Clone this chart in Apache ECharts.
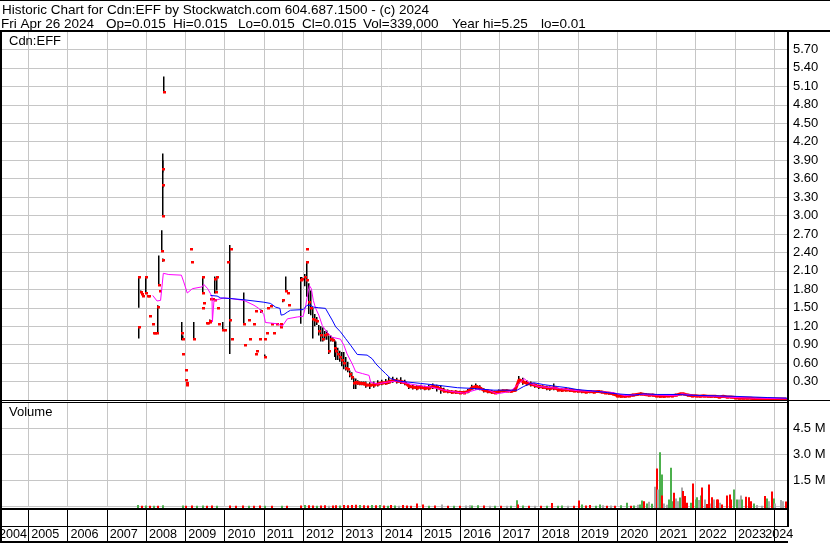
<!DOCTYPE html>
<html><head><meta charset="utf-8">
<script src="https://cdn.jsdelivr.net/npm/echarts@6/dist/echarts.min.js"></script>
<style>html,body{margin:0;padding:0;background:#fff;overflow:hidden;width:830px;height:543px;position:relative}
#c{position:absolute;left:-11px;top:0;width:841px;height:543px}</style>
</head><body><div id="c"></div><script>
// ---------------- DATA ----------------
const headerLine1 = 'Historic Chart for Cdn:EFF by Stockwatch.com 604.687.1500 - (c) 2024';
const headerLine2 = ['Fri Apr 26 2024', 'Op=0.015', 'Hi=0.015', 'Lo=0.015', 'Cl=0.015', 'Vol=339,000', 'Year hi=5.25', 'lo=0.01'];
const symbolLabel = 'Cdn:EFF';
const volumeLabel = 'Volume';
const yearLabels = [2004,2005,2006,2007,2008,2009,2010,2011,2012,2013,2014,2015,2016,2017,2018,2019,2020,2021,2022,2023,2024];
const volumeTickLabels = {1.5:'1.5 M', 3:'3.0 M', 4.5:'4.5 M'};

// sparse trading period (2007-2011)
const earlyDates = [2007.81,2007.82,2007.86,2007.90,2007.93,2008.00,2008.01,2008.04,2008.08,2008.11,
 2008.17,2008.19,2008.23,2008.27,2008.31,2008.32,2008.36,2008.41,2008.42,2008.43,
 2008.435,2008.44,2008.45,2008.92,2008.93,2008.94,2009.02,2009.03,2009.04,2009.05,
 2009.15,2009.18,2009.23,2009.44,2009.45,2009.46,2009.47,2009.54,2009.57,2009.62,
 2009.64,2009.66,2009.70,2009.75,2009.76,2009.79,2009.81,2009.84,2009.85,2009.96,
 2010.02,2010.09,2010.15,2010.17,2010.18,2010.49,2010.53,2010.63,2010.66,2010.75,
 2010.79,2010.81,2010.83,2010.90,2010.93,2011.03,2011.04,2011.08,2011.11,2011.17,
 2011.21,2011.26,2011.34,2011.43,2011.44,2011.49,2011.57,2011.62,2011.65,2011.95,
 2011.97,2012.09,2012.11];
const earlyHigh = [2.01,1.20,1.78,1.74,1.70,2.01,2.00,1.70,1.70,1.36,
 1.24,1.09,1.09,1.09,1.54,2.35,1.78,2.76,2.30,4.01,
 3.90,3.50,5.26,1.27,1.05,0.75,0.48,0.33,0.28,0.24,
 2.45,2.24,1.27,1.50,2.01,2.00,1.58,1.26,1.26,1.31,
 1.28,1.65,1.65,2.01,1.62,1.76,2.00,1.49,1.24,1.27,
 1.14,2.24,2.52,2.46,1.00,1.75,0.90,1.30,1.00,1.24,
 1.45,0.74,0.80,1.00,1.47,1.00,0.74,1.09,1.50,1.53,
 1.24,1.09,1.24,1.24,1.19,1.64,2.01,1.74,1.54,2.00,
 2.00,2.46,2.24];
const earlyLow = [1.50,1.00,1.75,1.72,1.69,1.74,2.00,1.69,1.69,1.36,
 1.24,1.09,1.09,1.09,1.09,1.86,1.78,2.42,2.25,3.70,
 3.45,2.98,5.01,0.97,1.00,0.75,0.48,0.33,0.28,0.24,
 2.45,2.24,1.00,1.50,1.74,2.00,1.58,1.26,1.26,1.25,
 1.28,1.65,1.65,1.73,1.62,1.76,1.78,1.49,1.24,1.14,
 1.14,2.24,0.75,2.46,1.00,1.24,0.90,1.30,1.00,1.24,
 1.45,0.74,0.80,1.00,1.42,1.00,0.70,1.09,1.50,1.53,
 1.24,1.09,1.24,1.24,1.19,1.59,1.78,1.74,1.54,1.24,
 1.95,2.46,2.24];
const earlyClose = [2.00,1.19,1.76,1.73,1.69,1.74,2.00,1.69,1.69,1.36,
 1.24,1.09,1.09,1.09,1.52,1.87,1.78,2.42,2.28,3.76,
 3.49,2.99,5.01,1.09,1.00,0.75,0.48,0.33,0.28,0.24,
 2.45,2.24,1.00,1.50,1.74,2.00,1.58,1.26,1.26,1.27,
 1.28,1.65,1.65,1.97,1.62,1.76,2.00,1.49,1.24,1.14,
 1.14,2.24,1.30,2.46,1.00,1.24,0.90,1.30,1.00,1.24,
 1.45,0.74,0.80,1.00,1.45,1.00,0.70,1.09,1.50,1.53,
 1.24,1.09,1.24,1.24,1.19,1.62,1.78,1.74,1.54,1.95,
 1.97,2.46,2.24];

// active trading period (2012-2024)
const lateDates = [2012.05,2012.10,2012.15,2012.20,2012.25,2012.30,2012.35,2012.40,2012.45,2012.50,
 2012.55,2012.60,2012.65,2012.70,2012.75,2012.80,2012.85,2012.90,2012.95,2013.00,
 2013.05,2013.10,2013.15,2013.20,2013.25,2013.30,2013.35,2013.40,2013.45,2013.50,2013.55,
 2013.6,2013.7,2013.8,2013.9,
 2014.0,2014.1,2014.2,2014.3,2014.4,2014.5,2014.6,2014.7,2014.8,2014.9,
 2015.0,2015.1,2015.2,2015.3,2015.4,2015.5,2015.6,2015.7,2015.8,2015.9,
 2016.0,2016.1,2016.2,2016.3,2016.4,2016.5,2016.6,2016.7,2016.8,2016.9,
 2017.0,2017.1,2017.2,2017.3,2017.4,2017.5,2017.6,2017.7,2017.8,2017.9,
 2018.0,2018.1,2018.2,2018.3,2018.4,2018.5,2018.6,2018.7,2018.8,2018.9,
 2019.0,2019.1,2019.2,2019.3,2019.4,2019.5,2019.6,2019.7,2019.8,2019.9,
 2020.0,2020.1,2020.2,2020.3,2020.4,2020.5,2020.6,2020.7,2020.8,2020.9,
 2021.0,2021.1,2021.2,2021.3,2021.4,2021.5,2021.6,2021.7,2021.8,2021.9,
 2022.0,2022.1,2022.2,2022.3,2022.4,2022.5,2022.6,2022.7,2022.8,2022.9,
 2023.0,2023.1,2023.2,2023.3,2023.4,2023.5,2023.6,2023.7,2023.8,2023.9,
 2024.0,2024.1,2024.2,2024.3];
const lateClose = [2.00,1.95,1.60,1.50,1.32,1.30,1.28,1.12,1.05,1.00,
 1.05,1.08,0.80,1.00,0.98,0.85,0.80,0.75,0.70,0.65,
 0.60,0.52,0.50,0.42,0.38,0.28,0.30,0.28,0.27,0.27,0.27,
 0.25,0.24,0.25,0.26,
 0.28,0.28,0.30,0.32,0.31,0.30,0.28,0.22,0.21,0.20,
 0.21,0.19,0.20,0.22,0.21,0.18,0.15,0.14,0.13,0.13,
 0.12,0.12,0.14,0.20,0.22,0.20,0.16,0.14,0.13,0.12,
 0.14,0.15,0.15,0.14,0.16,0.33,0.30,0.27,0.26,0.24,
 0.22,0.21,0.20,0.19,0.20,0.17,0.16,0.17,0.16,0.15,
 0.15,0.14,0.13,0.14,0.13,0.14,0.13,0.12,0.11,0.10,
 0.07,0.06,0.06,0.07,0.08,0.09,0.10,0.09,0.08,0.08,
 0.07,0.06,0.06,0.07,0.07,0.08,0.10,0.10,0.08,0.07,
 0.07,0.06,0.07,0.06,0.06,0.06,0.05,0.06,0.05,0.05,
 0.04,0.03,0.03,0.03,0.03,0.02,0.025,0.02,0.02,0.015,
 0.015,0.015,0.015,0.015];
const lateHigh = [2.05,2.25,1.90,1.78,1.50,1.40,1.35,1.22,1.20,1.18,
 1.12,1.13,1.05,1.05,1.02,0.97,0.95,0.85,0.80,0.78,
 0.78,0.70,0.62,0.48,0.45,0.36,0.35,0.32,0.30,0.30,0.30,
 0.30,0.29,0.30,0.32,
 0.33,0.34,0.37,0.38,0.36,0.37,0.33,0.26,0.25,0.24,
 0.25,0.23,0.25,0.27,0.25,0.24,0.20,0.17,0.16,0.16,
 0.15,0.15,0.18,0.25,0.27,0.24,0.19,0.17,0.16,0.15,
 0.17,0.17,0.17,0.16,0.19,0.39,0.36,0.32,0.30,0.27,
 0.25,0.24,0.23,0.22,0.27,0.20,0.19,0.20,0.19,0.17,
 0.17,0.16,0.15,0.16,0.15,0.16,0.15,0.14,0.13,0.12,
 0.09,0.08,0.08,0.08,0.10,0.11,0.12,0.11,0.10,0.10,
 0.09,0.08,0.08,0.08,0.09,0.10,0.11,0.11,0.10,0.09,
 0.08,0.08,0.08,0.08,0.07,0.07,0.07,0.07,0.06,0.06,
 0.05,0.04,0.04,0.04,0.04,0.03,0.03,0.03,0.025,0.02,
 0.02,0.02,0.02,0.02];
const lateLow = [1.85,1.68,1.40,1.38,1.00,1.20,1.22,1.05,0.95,0.95,
 0.98,0.98,0.75,0.95,0.95,0.70,0.65,0.65,0.62,0.55,
 0.50,0.48,0.45,0.37,0.33,0.18,0.18,0.25,0.24,0.24,0.24,
 0.20,0.18,0.20,0.22,
 0.24,0.25,0.26,0.28,0.27,0.26,0.24,0.18,0.17,0.16,
 0.17,0.16,0.16,0.18,0.14,0.10,0.12,0.11,0.10,0.10,
 0.10,0.10,0.11,0.16,0.17,0.16,0.12,0.11,0.10,0.10,
 0.12,0.13,0.13,0.12,0.13,0.26,0.25,0.23,0.22,0.20,
 0.18,0.18,0.16,0.15,0.16,0.14,0.13,0.14,0.13,0.13,
 0.12,0.11,0.11,0.11,0.11,0.12,0.11,0.10,0.09,0.08,
 0.05,0.04,0.04,0.05,0.06,0.07,0.08,0.07,0.06,0.06,
 0.05,0.04,0.04,0.05,0.05,0.06,0.08,0.08,0.06,0.05,
 0.05,0.05,0.05,0.05,0.04,0.04,0.04,0.04,0.04,0.04,
 0.02,0.02,0.02,0.02,0.02,0.015,0.015,0.01,0.01,0.01,
 0.01,0.01,0.01,0.01];

// moving averages
const shortMaDates = [2008.17,2008.28,2008.37,2008.41,2008.44,2008.58,2008.90,2008.96,2009.05,2009.18,
 2009.43,2009.47,2009.57,2009.64,2009.68,2009.69,2009.73,2009.81,2009.98,2010.15,
 2010.49,2010.75,2010.87,2011.00,2011.04,2011.34,2011.47,2011.60,2011.85,2012.00,
 2012.06,2012.12,2012.16,2012.21,2012.26,2012.32,2012.40,2012.49,2012.61,2012.74,
 2012.95,2013.04,2013.12,2013.25,2013.34,2013.51,2013.68,2013.72,2013.89,2014.14,
 2014.40,2014.65,2014.91,2015.25,2015.67,2016.10,2016.43,2016.69,2016.94,2017.28,
 2017.54,2017.62,2017.79,2018.00,2018.50,2019.00,2019.50,2019.90,2020.20,2020.50,
 2021.00,2021.50,2021.65,2022.00,2022.50,2023.00,2023.50,2024.35];
const shortMaValues = [1.70,1.61,1.62,1.65,2.06,2.04,2.03,1.92,1.74,1.81,
 1.84,1.88,1.81,1.73,1.68,1.27,1.62,1.63,1.66,1.65,
 1.62,1.54,1.49,1.39,1.26,1.24,1.20,1.32,1.35,1.36,
 1.51,1.73,1.86,1.81,1.62,1.49,1.38,1.21,1.10,1.02,
 0.99,0.89,0.75,0.59,0.46,0.43,0.40,0.29,0.26,0.29,
 0.31,0.27,0.24,0.21,0.15,0.11,0.17,0.17,0.10,0.14,
 0.29,0.35,0.27,0.22,0.19,0.15,0.14,0.12,0.07,0.09,
 0.08,0.07,0.10,0.07,0.06,0.04,0.03,0.02];
const longMaDates = [2009.64,2009.81,2009.90,2010.15,2010.49,2010.75,2011.00,2011.17,2011.30,2011.41,
 2011.44,2011.51,2011.60,2011.68,2012.00,2012.10,2012.19,2012.27,2012.40,2012.57,
 2012.65,2012.74,2012.83,2012.95,2013.08,2013.21,2013.38,2013.63,2013.76,2013.85,
 2013.97,2014.10,2014.23,2014.40,2014.99,2015.42,2015.93,2016.27,2016.86,2017.45,
 2017.62,2017.79,2017.88,2018.13,2018.47,2018.73,2018.98,2019.49,2019.75,2020.00,
 2020.43,2020.68,2021.02,2021.53,2021.78,2022.97,2023.82,2024.35];
const longMaValues = [1.70,1.69,1.66,1.65,1.63,1.61,1.59,1.57,1.51,1.49,
 1.38,1.39,1.43,1.46,1.47,1.54,1.54,1.51,1.50,1.49,
 1.40,1.30,1.19,1.11,1.00,0.89,0.74,0.73,0.67,0.59,
 0.51,0.43,0.35,0.31,0.27,0.24,0.20,0.19,0.16,0.16,
 0.22,0.27,0.28,0.25,0.22,0.20,0.17,0.14,0.12,0.10,
 0.08,0.10,0.09,0.09,0.08,0.06,0.04,0.03];

// volume (millions), direction: 1 up (green), -1 down (red), 0 unchanged (gray)
const volDates = [2007.80,2007.90,2008.00,2008.10,2008.20,2008.30,2008.44,2008.93,2009.03,2009.18,
 2009.30,2009.45,2009.55,2009.68,2009.80,2010.15,2010.30,2010.48,2010.62,2010.76,
 2010.90,2011.03,2011.20,2011.45,2011.60,2011.95,2012.05,2012.15,2012.25,2012.35,
 2012.45,2012.55,2012.65,2012.75,2012.85,2012.95,2013.05,2013.15,2013.25,2013.35,
 2013.45,2013.55,2013.65,2013.75,2013.85,2013.95,2014.05,2014.15,2014.25,2014.35,
 2014.45,2014.55,2014.65,2014.75,2014.90,2015.05,2015.20,2015.35,2015.55,2015.70,
 2015.85,2016.00,2016.15,2016.25,2016.30,2016.45,2016.60,2016.75,2016.90,2017.05,
 2017.20,2017.30,2017.44,2017.48,2017.60,2017.75,2017.90,2018.05,2018.20,2018.34,
 2018.50,2018.60,2018.75,2018.90,2019.02,2019.10,2019.20,2019.30,2019.45,2019.55,
 2019.65,2019.75,2019.85,2019.95,2020.10,2020.24,2020.35,2020.44,2020.52,2020.58,
 2020.64,2020.68,2020.75,2020.82,2020.89,2020.96,2021.02,2021.05,2021.09,2021.10,
 2021.14,2021.15,2021.19,2021.27,2021.32,2021.36,2021.40,2021.44,2021.49,2021.55,
 2021.61,2021.66,2021.68,2021.72,2021.78,2021.87,2021.94,2022.00,2022.04,2022.08,
 2022.14,2022.17,2022.23,2022.28,2022.34,2022.38,2022.42,2022.46,2022.53,2022.56,
 2022.61,2022.67,2022.80,2022.87,2022.90,2022.97,2023.04,2023.10,2023.16,2023.18,
 2023.27,2023.35,2023.40,2023.48,2023.57,2023.69,2023.76,2023.82,2023.86,2023.95,
 2023.99,2024.03,2024.16,2024.23,2024.29];
const volValues = [0.08,0.05,0.06,0.05,0.04,0.05,0.07,0.06,0.05,0.06,
 0.05,0.06,0.05,0.06,0.05,0.06,0.05,0.06,0.05,0.05,
 0.06,0.05,0.04,0.05,0.04,0.06,0.08,0.07,0.06,0.05,
 0.06,0.07,0.05,0.06,0.07,0.06,0.08,0.07,0.09,0.10,
 0.08,0.07,0.06,0.08,0.07,0.09,0.06,0.05,0.08,0.06,
 0.05,0.08,0.06,0.05,0.17,0.12,0.05,0.06,0.12,0.05,
 0.04,0.05,0.06,0.07,0.06,0.07,0.06,0.04,0.05,0.04,
 0.05,0.04,0.36,0.12,0.06,0.05,0.04,0.05,0.04,0.20,
 0.05,0.06,0.04,0.05,0.35,0.12,0.06,0.08,0.05,0.12,
 0.07,0.05,0.06,0.05,0.07,0.22,0.05,0.06,0.10,0.12,
 0.35,0.30,0.18,0.28,0.16,1.14,2.19,0.98,1.79,3.13,
 1.85,0.63,0.17,0.10,0.40,2.23,0.31,0.79,0.46,0.31,
 0.52,1.10,0.89,0.60,0.21,0.21,1.32,0.40,0.54,0.37,
 0.64,1.10,0.40,0.15,1.27,0.17,0.54,0.40,0.40,0.40,
 0.21,0.12,0.63,0.69,0.40,0.98,0.40,0.40,0.63,0.40,
 0.56,0.54,0.31,0.17,0.08,0.04,0.60,0.46,0.31,0.87,
 0.46,0.17,0.37,0.31,0.29];
const volDir = [1,-1,1,-1,1,-1,1,1,-1,-1,
 1,1,-1,-1,1,-1,-1,-1,1,-1,
 -1,1,-1,1,-1,-1,1,-1,-1,1,
 -1,-1,0,-1,-1,1,-1,-1,-1,-1,
 1,-1,-1,1,-1,1,-1,1,-1,1,
 0,-1,-1,-1,-1,-1,1,-1,0,-1,
 1,-1,0,0,1,1,-1,0,1,-1,
 0,1,1,-1,1,-1,0,-1,1,-1,
 1,1,0,-1,-1,1,-1,-1,1,1,
 0,-1,0,-1,1,1,-1,1,0,1,
 1,-1,1,0,1,0,-1,0,-1,1,
 1,-1,0,0,1,1,1,-1,0,0,
 1,0,-1,-1,-1,1,-1,1,1,0,
 1,-1,0,-1,-1,0,-1,0,-1,-1,
 0,-1,-1,-1,-1,1,1,0,0,1,
 -1,-1,-1,1,0,0,-1,1,0,-1,
 1,0,0,0,-1];

// ---------------- CHART ----------------
const FONT = '"Liberation Sans", Arial, Helvetica, sans-serif';
const GRIDC = '#c6c6c6';
const OFF = 11;                 // canvas is shifted left by this many px (axis starts mid-2004)
const X_MIN = 2004, X_MAX = 2024.35;
const volColor = d => d > 0 ? '#4cb04c' : (d < 0 ? '#ff0000' : '#a9a9a9');

const chart = echarts.init(document.getElementById('c'), null, {renderer: 'canvas'});

const earlyBars = earlyDates.map((d, i) => [d, earlyHigh[i], earlyLow[i]]);
const lateBars = lateDates.map((d, i) => [d, lateHigh[i], lateLow[i]]);
const closeDots = earlyDates.map((d, i) => [d, earlyClose[i]]).concat(lateDates.map((d, i) => [d, lateClose[i]]));
const closeBand = lateDates.map((d, i) => [d, lateClose[i]]).filter(p => p[0] >= 2013.3);
const volData = volDates.map((d, i) => [d, volValues[i], volDir[i]]);

function hlRender(params, api) {
  const a = api.coord([api.value(0), api.value(1)]);
  const b = api.coord([api.value(0), api.value(2)]);
  if (b[1] - a[1] < 1) return null;
  return {type: 'rect', shape: {x: Math.round(a[0]) - 1, y: a[1], width: 1.5, height: b[1] - a[1]}, style: {fill: '#000'}};
}
function dotRender(params, api) {
  const p = api.coord([api.value(0), api.value(1)]);
  return {type: 'rect', shape: {x: Math.round(p[0]) - 1, y: Math.round(p[1]) - 1, width: 3, height: 2.5}, style: {fill: '#ff0000'}};
}
function volRender(params, api) {
  const p = api.coord([api.value(0), api.value(1)]);
  const base = api.coord([api.value(0), 0]);
  return {type: 'rect', shape: {x: Math.round(p[0]) - 1, y: p[1], width: 2, height: base[1] - p[1] + 2},
    style: {fill: volColor(api.value(2))}};
}

const xBase = {type: 'value', min: X_MIN, max: X_MAX, interval: 1,
  axisLine: {show: false}, axisTick: {show: false}, axisLabel: {show: false},
  splitLine: {show: true, lineStyle: {color: GRIDC, width: 1}}};

const txt = (x, y, s, size) => ({type: 'text', z: 100, x: x + OFF, y: y,
  style: {text: s, fontSize: size, fontFamily: FONT, fill: '#000', verticalAlign: 'middle', align: 'left'}});
const hdrX = [1, 106, 173, 238, 302, 363, 452, 541];
const frame = (x, y, w, h) => ({type: 'rect', z: 100, shape: {x: x + OFF, y: y, width: w, height: h}, style: {fill: '#000'}});

const option = {
  animation: false,
  backgroundColor: '#fff',
  grid: [
    {left: 0, right: 42, top: 31, height: 369},
    {left: 0, right: 42, top: 402.5, height: 104},
    {left: 0, right: 42, top: 509, height: 18}
  ],
  xAxis: [
    Object.assign({gridIndex: 0}, xBase),
    Object.assign({gridIndex: 1}, xBase),
    {gridIndex: 2, type: 'value', min: X_MIN, max: X_MAX, interval: 1,
      axisLine: {show: false},
      axisTick: {show: true, length: 14, lineStyle: {color: '#000', width: 1}},
      splitLine: {show: true, lineStyle: {color: '#000', width: 1}},
      axisLabel: {show: true, align: 'left', margin: 1, padding: [0, 0, 0, 3],
        fontSize: 12.6, fontFamily: FONT, color: '#000', verticalAlign: 'top',
        formatter: v => {
          const y = Math.round(v);
          if (y === yearLabels[0]) return '{first|' + y + '}';
          if (y === yearLabels[yearLabels.length - 1]) return '{last|' + y + '}';
          return yearLabels.indexOf(y) >= 0 ? String(y) : '';
        },
        rich: {
          first: {width: 35, align: 'right', fontSize: 12.6, fontFamily: FONT, color: '#000'},
          last: {width: 16, align: 'right', fontSize: 12.6, fontFamily: FONT, color: '#000'}
        }}}
  ],
  yAxis: [
    {gridIndex: 0, type: 'value', position: 'right', min: 0, max: 6, interval: 0.3,
      axisLine: {show: false}, axisTick: {show: false},
      splitLine: {show: true, lineStyle: {color: GRIDC, width: 1}},
      axisLabel: {margin: 5, fontSize: 13, fontFamily: FONT, color: '#000',
        formatter: v => (v > 0.01 && v < 5.95) ? v.toFixed(2) : ''}},
    {gridIndex: 1, type: 'value', position: 'right', min: 0, max: 6, interval: 1.5,
      axisLine: {show: false}, axisTick: {show: false},
      splitLine: {show: true, lineStyle: {color: GRIDC, width: 1}},
      axisLabel: {margin: 5, fontSize: 13, fontFamily: FONT, color: '#000',
        formatter: v => volumeTickLabels[Math.round(v * 10) / 10] || ''}},
    {gridIndex: 2, type: 'value', min: 0, max: 1, show: false}
  ],
  series: [
    {type: 'custom', name: 'range-early', xAxisIndex: 0, yAxisIndex: 0, data: earlyBars,
      renderItem: hlRender, encode: {x: 0, y: [1, 2]}, z: 2, silent: true},
    {type: 'custom', name: 'range-late', xAxisIndex: 0, yAxisIndex: 0, data: lateBars,
      renderItem: hlRender, encode: {x: 0, y: [1, 2]}, z: 2, silent: true},
    {type: 'line', name: 'close-band', xAxisIndex: 0, yAxisIndex: 0, data: closeBand,
      showSymbol: false, lineStyle: {color: '#ff0000', width: 3}, z: 3, silent: true},
    {type: 'custom', name: 'close', xAxisIndex: 0, yAxisIndex: 0, data: closeDots,
      renderItem: dotRender, encode: {x: 0, y: 1}, z: 3, silent: true},
    {type: 'line', name: 'ma-short', xAxisIndex: 0, yAxisIndex: 0,
      data: shortMaDates.map((d, i) => [d, shortMaValues[i]]),
      showSymbol: false, lineStyle: {color: '#ff00ff', width: 1}, z: 4, silent: true},
    {type: 'line', name: 'ma-long', xAxisIndex: 0, yAxisIndex: 0,
      data: longMaDates.map((d, i) => [d, longMaValues[i]]),
      showSymbol: false, lineStyle: {color: '#0000ff', width: 1}, z: 5, silent: true},
    {type: 'custom', name: 'volume', xAxisIndex: 1, yAxisIndex: 1, data: volData,
      renderItem: volRender, encode: {x: 0, y: 1}, z: 2, silent: true}
  ],
  graphic: [
    txt(2, 10, headerLine1, 13.5)
  ].concat(headerLine2.map((s, i) => txt(hdrX[i], 24.2, s, 13.5)), [
    txt(9, 41, symbolLabel, 13),
    txt(9, 412.5, volumeLabel, 13),
    frame(0, 0, 830, 1),
    frame(0, 30, 830, 2),
    frame(0, 31, 2, 512),
    frame(787, 31, 2, 496),
    frame(0, 400, 830, 1),
    frame(0, 402, 788, 1),
    frame(0, 508, 788, 2),
    frame(0, 526, 788, 1),
    frame(0, 541, 788, 2)
  ])
};
chart.setOption(option);
</script></body></html>
